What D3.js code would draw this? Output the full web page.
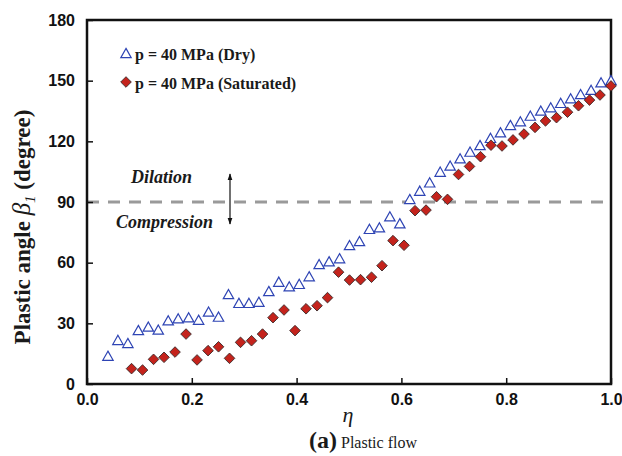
<!DOCTYPE html>
<html>
<head>
<meta charset="utf-8">
<script src="https://cdn.jsdelivr.net/npm/d3@7"></script>
<style>
  html, body { margin: 0; padding: 0; background: #fff; }
  svg { display: block; }
</style>
</head>
<body>
<svg id="chart" width="622" height="456"></svg>
<script>
// Plastic flow angle vs. eta for dry and saturated specimens at p = 40 MPa
const dryEta = [0.040, 0.059, 0.078, 0.098, 0.117, 0.136, 0.155, 0.174, 0.194, 0.213,
  0.232, 0.251, 0.270, 0.290, 0.309, 0.328, 0.347, 0.366, 0.386, 0.405,
  0.424, 0.443, 0.462, 0.482, 0.501, 0.520, 0.539, 0.558, 0.578, 0.597,
  0.616, 0.635, 0.654, 0.674, 0.693, 0.712, 0.731, 0.750, 0.770, 0.789,
  0.808, 0.827, 0.846, 0.866, 0.885, 0.904, 0.923, 0.942, 0.962, 0.981, 1.000];
const dryBeta = [13.5, 21.3, 19.8, 26.2, 27.9, 26.4, 31.0, 32.0, 32.5, 31.3,
  35.3, 32.8, 44.0, 39.6, 39.6, 40.2, 45.5, 50.1, 47.8, 49.0,
  52.8, 58.8, 60.2, 61.7, 68.2, 70.2, 76.2, 77.0, 82.4, 79.0,
  91.0, 95.1, 99.2, 104.5, 107.5, 111.1, 114.4, 117.7, 121.2, 124.0,
  127.6, 129.4, 132.2, 134.7, 136.3, 138.5, 140.8, 142.9, 145.0, 148.7, 149.8];

const satEta = [0.085, 0.106, 0.127, 0.147, 0.168, 0.189, 0.210, 0.231, 0.251, 0.272,
  0.293, 0.314, 0.335, 0.355, 0.376, 0.397, 0.418, 0.439, 0.459, 0.480,
  0.501, 0.522, 0.543, 0.563, 0.584, 0.605, 0.626, 0.647, 0.667, 0.688,
  0.709, 0.730, 0.751, 0.771, 0.792, 0.813, 0.834, 0.855, 0.875, 0.896,
  0.917, 0.938, 0.959, 0.979, 1.000];
const satBeta = [7.6, 6.9, 12.2, 13.2, 15.8, 24.7, 11.9, 16.5, 18.4, 12.7,
  20.6, 21.4, 24.7, 32.8, 36.6, 26.4, 37.2, 38.7, 42.7, 55.3,
  51.4, 51.6, 52.8, 58.5, 70.9, 68.6, 85.7, 86.0, 92.6, 91.3,
  103.6, 107.6, 112.4, 118.1, 117.7, 120.7, 123.6, 126.9, 130.1, 131.7,
  134.4, 137.6, 140.4, 142.9, 147.4];

const xTicks = [0, 0.2, 0.4, 0.6, 0.8, 1.0];
const yTicks = [0, 30, 60, 90, 120, 150, 180];
const seriesNames = ["p = 40 MPa (Dry)", "p = 40 MPa (Saturated)"];
const boundaryAngle = 90;

const svg = d3.select("#chart");
const plotL = 87, plotR = 611, plotT = 20, plotB = 384;

const x = d3.scaleLinear().domain([0, 1]).range([plotL, plotR]);
const y = d3.scaleLinear().domain([0, 180]).range([plotB, plotT]);

const blue = "#2e44b4";
const red = "#c4231c";
const serif = "'Liberation Serif', 'Times New Roman', serif";
const sans = "'Liberation Sans', Arial, sans-serif";

const triPath = "M0,-5.6L5.2,3.6L-5.2,3.6Z";
const diaPath = "M0,-5.3L5.3,0L0,5.3L-5.3,0Z";

// dilation / compression boundary
svg.append("line")
  .attr("x1", x(0)).attr("x2", x(1))
  .attr("y1", y(boundaryAngle)).attr("y2", y(boundaryAngle))
  .attr("stroke", "#9a9a9a").attr("stroke-width", 3)
  .attr("stroke-dasharray", "12,9");

// axes with inward ticks
const xAxis = d3.axisBottom(x).tickValues(xTicks).tickSize(-6).tickPadding(10)
  .tickFormat(d3.format(".1f"));
const yAxis = d3.axisLeft(y).tickValues(yTicks).tickSize(-6).tickPadding(12)
  .tickFormat(d3.format("d"));

const gx = svg.append("g").attr("transform", `translate(0,${plotB})`).call(xAxis);
const gy = svg.append("g").attr("transform", `translate(${plotL},0)`).call(yAxis);
[gx, gy].forEach(g => {
  g.select(".domain").remove();
  g.selectAll(".tick line").attr("stroke", "#111").attr("stroke-width", 1.5);
  g.selectAll(".tick text").attr("fill", "#111")
    .style("font-family", sans).style("font-weight", "bold").style("font-size", "16px");
});
gx.selectAll(".tick text").attr("dy", "0.71em");

// frame
svg.append("rect")
  .attr("x", plotL).attr("y", plotT)
  .attr("width", plotR - plotL).attr("height", plotB - plotT)
  .attr("fill", "none").attr("stroke", "#111").attr("stroke-width", 2.5);

// data: dry (open triangles)
svg.append("g").selectAll("path")
  .data(d3.zip(dryEta, dryBeta))
  .join("path")
  .attr("d", triPath)
  .attr("transform", d => `translate(${x(d[0])},${y(d[1])})`)
  .attr("fill", "#fff").attr("stroke", blue).attr("stroke-width", 1.2);

// data: saturated (filled diamonds)
svg.append("g").selectAll("path")
  .data(d3.zip(satEta, satBeta))
  .join("path")
  .attr("d", diaPath)
  .attr("transform", d => `translate(${x(d[0])},${y(d[1])})`)
  .attr("fill", red).attr("stroke", "#3a2a2a").attr("stroke-width", 0.9);

// legend
const legend = svg.append("g");
legend.append("path").attr("d", triPath).attr("transform", "translate(126,54)")
  .attr("fill", "#fff").attr("stroke", blue).attr("stroke-width", 1.2);
legend.append("path").attr("d", diaPath).attr("transform", "translate(126,82)")
  .attr("fill", red).attr("stroke", "#3a2a2a").attr("stroke-width", 0.9);
legend.selectAll("text.leg")
  .data(seriesNames)
  .join("text")
  .attr("class", "leg")
  .attr("x", 135).attr("y", (d, i) => 60 + i * 29)
  .style("font-family", serif).style("font-weight", "bold").style("font-size", "16px")
  .attr("fill", "#1a1a1a")
  .text(d => d);

// region annotations
svg.append("text").attr("x", 131).attr("y", 183)
  .style("font-family", serif).style("font-weight", "bold").style("font-style", "italic")
  .style("font-size", "18px").attr("fill", "#1a1a1a").text("Dilation");
svg.append("text").attr("x", 116).attr("y", 228)
  .style("font-family", serif).style("font-weight", "bold").style("font-style", "italic")
  .style("font-size", "18px").attr("fill", "#1a1a1a").text("Compression");

// double-headed arrow
const defs = svg.append("defs");
defs.append("marker").attr("id", "ah").attr("viewBox", "0 0 10 10")
  .attr("refX", 9).attr("refY", 5).attr("markerWidth", 6).attr("markerHeight", 6)
  .attr("orient", "auto-start-reverse")
  .append("path").attr("d", "M0,1.5L10,5L0,8.5Z").attr("fill", "#111");
svg.append("line")
  .attr("x1", 230).attr("x2", 230).attr("y1", 174).attr("y2", 224)
  .attr("stroke", "#111").attr("stroke-width", 1.2)
  .attr("marker-start", "url(#ah)").attr("marker-end", "url(#ah)");

// axis titles
const yTitle = svg.append("text")
  .attr("transform", "translate(30,227) rotate(-90)")
  .attr("text-anchor", "middle")
  .style("font-family", serif).style("font-weight", "bold").style("font-size", "23px")
  .attr("fill", "#1a1a1a");
yTitle.append("tspan").text("Plastic angle ");
yTitle.append("tspan").style("font-style", "italic").style("font-weight", "normal")
  .style("font-size", "25px").text("β");
yTitle.append("tspan").style("font-style", "italic").style("font-weight", "normal")
  .style("font-size", "15px").attr("dy", 5).text("1");
yTitle.append("tspan").attr("dy", -5).text(" (degree)");

svg.append("text").attr("x", 348).attr("y", 422)
  .attr("text-anchor", "middle")
  .style("font-family", serif).style("font-style", "italic").style("font-size", "22px")
  .attr("fill", "#1a1a1a").text("η");

const cap = svg.append("text").attr("x", 309).attr("y", 448)
  .style("font-family", serif).attr("fill", "#1a1a1a");
cap.append("tspan").style("font-weight", "bold").style("font-size", "24px").text("(a)");
cap.append("tspan").style("font-size", "16px").text(" Plastic flow");
</script>
</body>
</html>
